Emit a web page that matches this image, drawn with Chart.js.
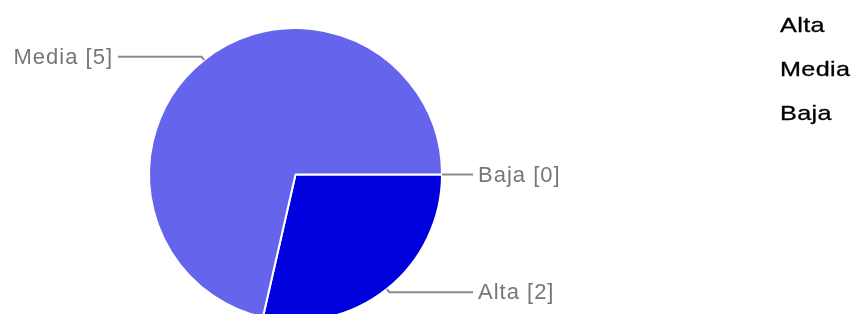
<!DOCTYPE html>
<html>
<head>
<meta charset="utf-8">
<script src="https://cdn.jsdelivr.net/npm/chart.js@4"></script>
<style>
    html, body { margin: 0; padding: 0; background: #fff; }
    #wrap { position: relative; width: 858px; height: 314px; overflow: hidden; }
    #pieChart { position: absolute; left: 0; top: 0; }
    #legend {
        position: absolute; left: 780px; top: 3px;
        font: 21px "Liberation Sans", Arial, sans-serif;
        letter-spacing: 0.3px; line-height: 44px; color: #000;
        transform: scaleX(1.2); transform-origin: 0 0;
        -webkit-text-stroke: 0.3px #000;
    }
</style>
</head>
<body>
<div id="wrap">
    <canvas id="pieChart" width="858" height="340"></canvas>
    <div id="legend"></div>
</div>
<script>
const categories = ["Alta", "Media", "Baja"];
const counts = [2, 5, 0];
const sliceColors = ["#0000dc", "#6464ec", "#dc3912"];

// legend: plain text list on the right
const legendEl = document.getElementById("legend");
categories.forEach((name) => {
    const div = document.createElement("div");
    div.textContent = name;
    legendEl.appendChild(div);
});

// --- leader lines + "Name [n]" labels ---
const leaderLabels = {
    id: "leaderLabels",
    afterDatasetsDraw(chart) {
        const ctx = chart.ctx;
        const meta = chart.getDatasetMeta(0);
        ctx.save();
        ctx.strokeStyle = "#8a8a8a";
        ctx.lineWidth = 2;
        ctx.fillStyle = "#777";
        ctx.font = '22px "Liberation Sans", Arial, sans-serif';
        ctx.letterSpacing = "1px";
        ctx.textBaseline = "middle";
        meta.data.forEach((arc, i) => {
            const { x, y, startAngle, endAngle, outerRadius } = arc.getProps(
                ["x", "y", "startAngle", "endAngle", "outerRadius"], true);
            const mid = (startAngle + endAngle) / 2;
            const cos = Math.cos(mid), sin = Math.sin(mid);
            const r = outerRadius;
            const x0 = x + cos * r, y0 = y + sin * r;
            const x1 = x + cos * (r + 4), y1 = y + sin * (r + 4);
            const right = cos >= -0.01;
            const x2 = right ? x + r + 31 : x - r - 31;
            ctx.beginPath();
            ctx.moveTo(x0, y0);
            ctx.lineTo(x1, y1);
            ctx.lineTo(x2, y1);
            ctx.stroke();
            const text = `${categories[i]} [${counts[i]}]`;
            ctx.textAlign = right ? "left" : "right";
            ctx.fillText(text, right ? x2 + 5 : x2 - 5, y1 + 1);
        });
        ctx.restore();
    },
};

new Chart(document.getElementById("pieChart"), {
    type: "pie",
    data: {
        labels: categories,
        datasets: [{
            data: counts,
            backgroundColor: sliceColors,
            borderColor: "#fff",
            borderWidth: 2,
        }],
    },
    options: {
        responsive: false,
        animation: false,
        rotation: 90,
        layout: { padding: { left: 148, right: 415, top: 27, bottom: 18 } },
        plugins: { legend: { display: false }, tooltip: { enabled: false } },
    },
    plugins: [leaderLabels],
});
</script>
</body>
</html>
